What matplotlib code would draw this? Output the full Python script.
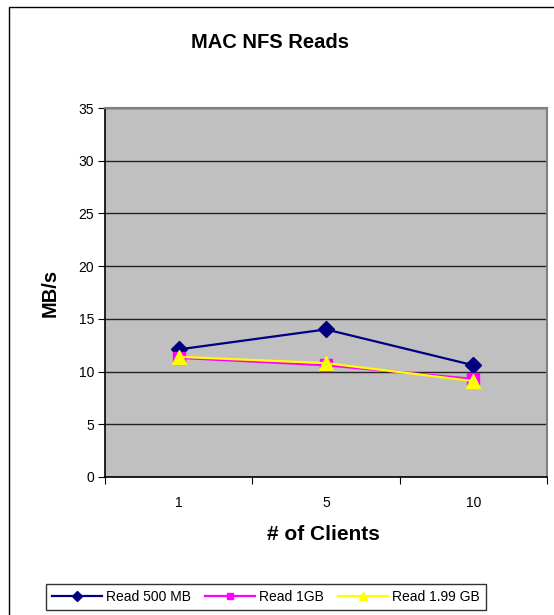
import matplotlib
matplotlib.use("Agg")
import matplotlib.pyplot as plt
from matplotlib.patches import Rectangle

plt.rcParams['font.family'] = ['Liberation Sans', 'DejaVu Sans']

clients = ["1", "5", "10"]
read_500mb = [12.1, 14.0, 10.6]
read_1gb = [11.3, 10.6, 9.3]
read_199gb = [11.4, 10.8, 9.1]

fig = plt.figure(figsize=(5.54, 6.15), dpi=100)
fig.patch.set_facecolor("white")

# outer chart frame (cropped at right / bottom like the source)
fig.patches.append(Rectangle((9 / 554, -0.05), 1.2, 1 - 7 / 615 + 0.05,
                             transform=fig.transFigure, fill=False,
                             edgecolor="black", linewidth=1.0))

ax = fig.add_axes([105 / 554, 1 - 477 / 615, 442 / 554, 369 / 615])
ax.set_facecolor("#C0C0C0")

x = list(range(len(clients)))
ax.plot(x, read_500mb, color="#000080", marker="D", markersize=8,
        linewidth=1.6, label="Read 500 MB", zorder=3)
ax.plot(x, read_1gb, color="#FF00FF", marker="s", markersize=8,
        linewidth=1.6, label="Read 1GB", zorder=4)
ax.plot(x, read_199gb, color="#FFFF00", marker="^", markersize=10,
        linewidth=1.6, label="Read 1.99 GB", zorder=5)

ax.set_xlim(-0.5, 2.5)
ax.set_ylim(0, 35)
ax.set_yticks(range(0, 36, 5))
ax.yaxis.grid(True, color="#222222", linewidth=1.0)
ax.set_axisbelow(True)

ax.set_xticks([-0.5, 0.5, 1.5, 2.5])
ax.set_xticklabels([])
ax.set_xticks(x, minor=True)
ax.set_xticklabels(clients, minor=True)
ax.tick_params(axis="x", which="minor", length=0, pad=14, labelsize=10)
ax.tick_params(axis="x", which="major", length=5, direction="out", color="black")
ax.tick_params(axis="y", length=5, direction="out", labelsize=10, pad=3)

for s in ["left", "bottom"]:
    ax.spines[s].set_color("black")
    ax.spines[s].set_linewidth(1.2)
for s in ["top", "right"]:
    ax.spines[s].set_color("#808080")
    ax.spines[s].set_linewidth(1.5)

fig.text(270 / 554, 1 - 42 / 615, "MAC NFS Reads", ha="center", va="center",
         fontsize=14.5, fontweight="bold")
fig.text(50 / 554, 1 - 293 / 615, "MB/s", ha="center", va="center",
         rotation=90, fontsize=14.5, fontweight="bold")
fig.text(323 / 554, 1 - 535 / 615, "# of Clients", ha="center", va="center",
         fontsize=15, fontweight="bold")

leg = fig.legend(loc="center", bbox_to_anchor=(266 / 554, 1 - 597 / 615),
                 ncol=3, fontsize=10, frameon=True, fancybox=False,
                 edgecolor="black", handlelength=3.6, columnspacing=1.0,
                 handletextpad=0.3, borderpad=0.45, markerscale=0.6)
leg.get_frame().set_linewidth(1.0)

fig.savefig("out.png", dpi=100)
